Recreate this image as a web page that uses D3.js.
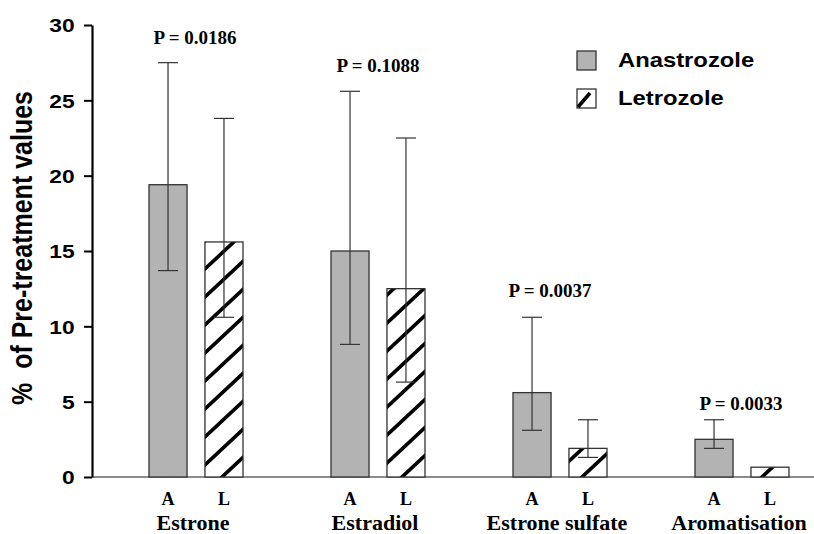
<!DOCTYPE html>
<html>
<head>
<meta charset="utf-8">
<script src="https://cdn.jsdelivr.net/npm/d3@7"></script>
<style>
  body { margin: 0; background: #fff; }
  text { white-space: pre; }
</style>
</head>
<body>
<div id="chart"></div>
<script>
// ---- DATA ----
const categories = ["Estrone", "Estradiol", "Estrone sulfate", "Aromatisation"];
const drugs = ["A", "L"];
const drugNames = ["Anastrozole", "Letrozole"];

const anastrozoleMean = [19.4, 15.0, 5.6, 2.5];
const anastrozoleLow  = [13.7, 8.8, 3.1, 1.9];
const anastrozoleHigh = [27.5, 25.6, 10.6, 3.8];

const letrozoleMean = [15.6, 12.5, 1.9, 0.65];
const letrozoleLow  = [10.6, 6.3, 1.3, null];
const letrozoleHigh = [23.8, 22.5, 3.8, null];

const pValues = ["P = 0.0186", "P = 0.1088", "P = 0.0037", "P = 0.0033"];
const yTicks = [0, 5, 10, 15, 20, 25, 30];

// ---- LAYOUT ----
const width = 814;
const height = 534;
const axisX = 92;
const pGap = [19, 19, 20, 10];   // px above the highest whisker
const pDx = [-1, 0, -10, -1];
const sans = "'Liberation Sans', Arial, sans-serif";
const serif = "'Liberation Serif', 'Times New Roman', serif";
const grey = "#b3b3b3";
const edge = "#333";

const bars = [];
categories.forEach((c, i) => {
  bars.push({ cat: c, drug: "A", v: anastrozoleMean[i], lo: anastrozoleLow[i], hi: anastrozoleHigh[i] });
  bars.push({ cat: c, drug: "L", v: letrozoleMean[i], lo: letrozoleLow[i], hi: letrozoleHigh[i] });
});

// ---- SVG ----
const svg = d3.select("#chart")
  .append("svg")
  .attr("width", width)
  .attr("height", height)
  .style("background", "#fff");

// hatch pattern for letrozole
const hw = 30, hh = 28;
svg.append("defs").append("pattern")
  .attr("id", "hatch")
  .attr("patternUnits", "userSpaceOnUse")
  .attr("x", 222).attr("y", 477)
  .attr("width", hw).attr("height", hh)
  .call(p => {
    p.append("rect").attr("width", hw).attr("height", hh).attr("fill", "#fff");
    p.append("path")
      .attr("d", `M0,${hh}L${hw},0M${-hw / 2},${hh / 2}L${hw / 2},${-hh / 2}M${hw / 2},${1.5 * hh}L${1.5 * hw},${hh / 2}`)
      .attr("stroke", "#000")
      .attr("stroke-width", 3.6);
  });

// ---- SCALES ----
const y = d3.scaleLinear().domain([0, 30]).range([477, 25]);
const x = d3.scalePoint().domain(categories).range([196, 742]);
const xs = d3.scaleBand().domain(drugs).range([-47, 47]).paddingInner(0.32);
const bw = xs.bandwidth();

// ---- BASELINE ----
svg.append("line")
  .attr("x1", axisX).attr("x2", width)
  .attr("y1", y(0)).attr("y2", y(0))
  .attr("stroke", "#666")
  .attr("stroke-width", 1.5);

// ---- AXIS ----
const yAxis = svg.append("g")
  .attr("transform", `translate(${axisX},0)`)
  .call(d3.axisLeft(y).tickValues(yTicks).tickSize(8).tickSizeOuter(0));

yAxis.select(".domain").attr("stroke", "#000").attr("stroke-width", 2.2);
yAxis.selectAll(".tick line").attr("stroke", "#000").attr("stroke-width", 2);
yAxis.selectAll(".tick text")
  .attr("x", -14.5)
  .attr("dy", "0.36em")
  .attr("transform", "scale(1.2,1)")
  .attr("fill", "#000")
  .style("font-family", sans)
  .style("font-weight", "bold")
  .style("font-size", "19px");

svg.append("text")
  .attr("transform", "translate(32,248) scale(1.2,1) rotate(-90)")
  .attr("text-anchor", "middle")
  .style("font-family", sans)
  .style("font-weight", "bold")
  .style("font-size", "25px")
  .text("%  of Pre-treatment values");

// ---- BARS ----
svg.selectAll("rect.bar")
  .data(bars)
  .enter()
  .append("rect")
  .attr("class", "bar")
  .attr("x", d => x(d.cat) + xs(d.drug))
  .attr("y", d => y(d.v))
  .attr("width", bw)
  .attr("height", d => y(0) - y(d.v))
  .attr("fill", d => d.drug === "A" ? grey : "url(#hatch)")
  .attr("stroke", edge)
  .attr("stroke-width", 1.3);

// ---- ERROR BARS ----
const err = svg.selectAll("g.err")
  .data(bars.filter(d => d.lo != null))
  .enter()
  .append("g")
  .attr("class", "err")
  .attr("transform", d => `translate(${x(d.cat) + xs(d.drug) + bw / 2},0)`)
  .attr("stroke", edge)
  .attr("stroke-width", 1.2);

err.append("line").attr("y1", d => y(d.lo)).attr("y2", d => y(d.hi));
err.append("line").attr("x1", -10).attr("x2", 10).attr("y1", d => y(d.hi)).attr("y2", d => y(d.hi));
err.append("line").attr("x1", -10).attr("x2", 10).attr("y1", d => y(d.lo)).attr("y2", d => y(d.lo));

// ---- P VALUES ----
svg.selectAll("text.pval")
  .data(categories)
  .enter()
  .append("text")
  .attr("class", "pval")
  .attr("x", (c, i) => x(c) + pDx[i])
  .attr("y", (c, i) => y(Math.max(anastrozoleHigh[i], letrozoleHigh[i] || 0)) - pGap[i])
  .attr("text-anchor", "middle")
  .style("font-family", serif)
  .style("font-weight", "bold")
  .style("font-size", "19px")
  .text((c, i) => pValues[i]);

// ---- X LABELS ----
svg.selectAll("text.drug")
  .data(bars)
  .enter()
  .append("text")
  .attr("class", "drug")
  .attr("x", d => x(d.cat) + xs(d.drug) + bw / 2)
  .attr("y", 505)
  .attr("text-anchor", "middle")
  .style("font-family", serif)
  .style("font-weight", "bold")
  .style("font-size", "18px")
  .text(d => d.drug);

svg.selectAll("text.cat")
  .data(categories)
  .enter()
  .append("text")
  .attr("class", "cat")
  .attr("x", d => x(d) - 3)
  .attr("y", 530)
  .attr("text-anchor", "middle")
  .style("font-family", serif)
  .style("font-weight", "bold")
  .style("font-size", "22px")
  .text(d => d);

// ---- LEGEND ----
const legend = svg.selectAll("g.legend")
  .data(drugNames)
  .enter()
  .append("g")
  .attr("class", "legend")
  .attr("transform", (d, i) => `translate(577,${51 + i * 38})`);

legend.append("rect")
  .attr("width", 19).attr("height", 19)
  .attr("fill", (d, i) => i === 0 ? grey : "#fff")
  .attr("stroke", edge)
  .attr("stroke-width", 1.3);

legend.filter((d, i) => i === 1)
  .append("line")
  .attr("x1", 1).attr("y1", 18)
  .attr("x2", 13).attr("y2", 4)
  .attr("stroke", "#000")
  .attr("stroke-width", 3.6);

legend.append("text")
  .attr("transform", "translate(41,16) scale(1.22,1)")
  .style("font-family", sans)
  .style("font-weight", "bold")
  .style("font-size", "19.5px")
  .text(d => d);
</script>
</body>
</html>
